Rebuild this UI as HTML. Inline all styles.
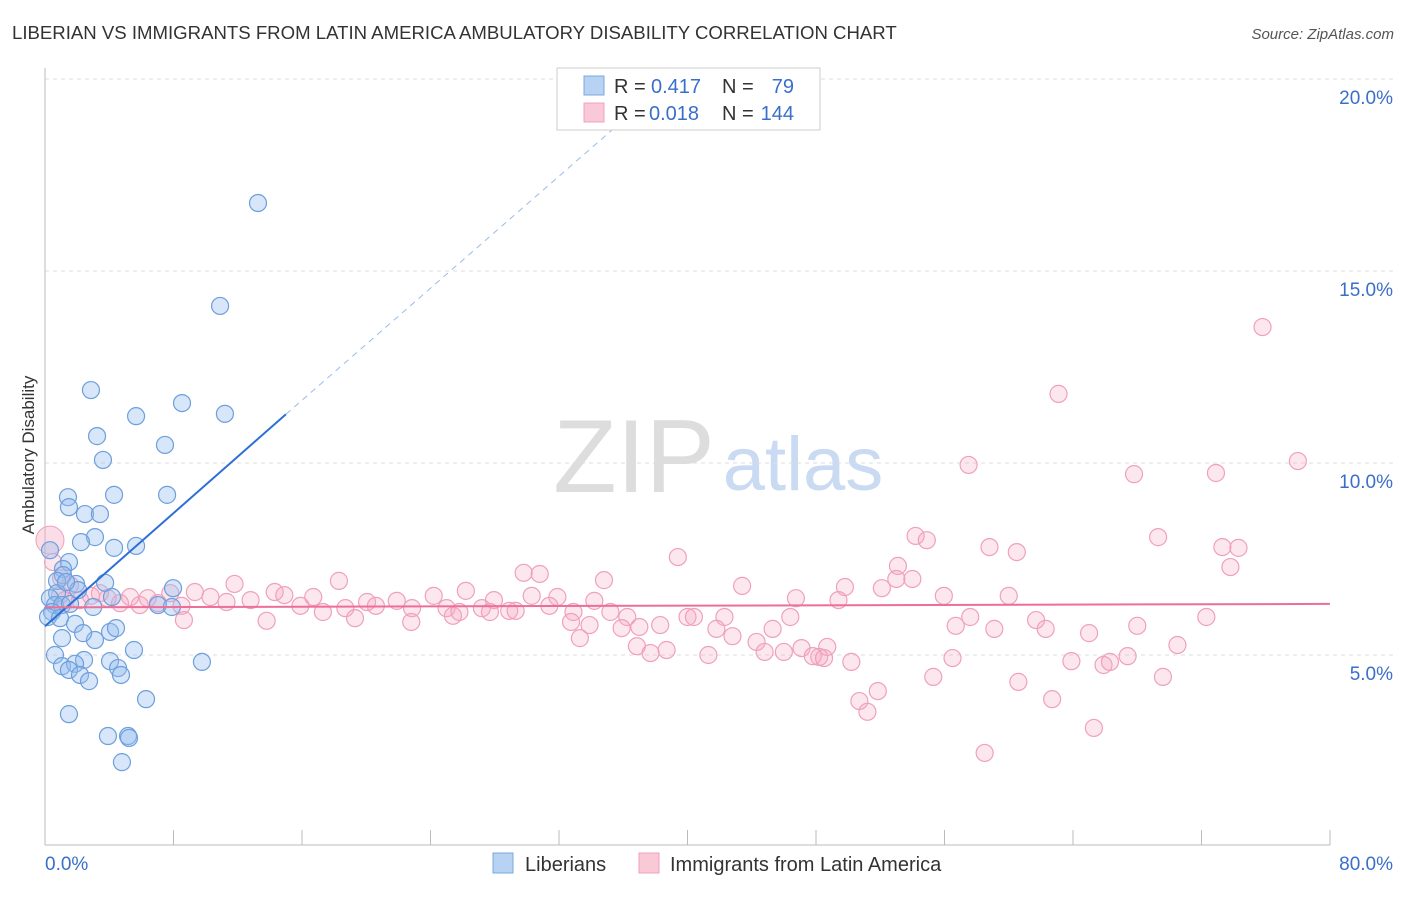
<!DOCTYPE html>
<html><head><meta charset="utf-8">
<style>
body{margin:0;background:#fff;font-family:"Liberation Sans",sans-serif;}
svg text{font-family:"Liberation Sans",sans-serif;}
</style></head>
<body>
<svg width="1406" height="892" viewBox="0 0 1406 892" xmlns="http://www.w3.org/2000/svg">
<text x="12" y="39" font-size="18.6" fill="#333">LIBERIAN VS IMMIGRANTS FROM LATIN AMERICA AMBULATORY DISABILITY CORRELATION CHART</text>
<text x="1394" y="39" font-size="15" fill="#555" font-style="italic" text-anchor="end">Source: ZipAtlas.com</text>
<g>
<text x="634" y="492" font-size="104" font-family="Liberation Serif" fill="#ddd" text-anchor="middle">ZIP</text>
<text x="803" y="490" font-size="76" fill="#c9daf2" text-anchor="middle">atlas</text>
</g>
<g id="grid"></g>
<g id="axes"></g>
<text x="34" y="455" font-size="17" fill="#333" text-anchor="middle" transform="rotate(-90 34 455)">Ambulatory Disability</text>
<g id="pink"></g>
<g id="blue"></g>
<g id="lines"></g>
<g>
<rect x="557" y="68" width="263" height="62" fill="#fff" stroke="#ccc"/>
<rect x="584" y="76" width="20" height="19" fill="#b8d2f4" stroke="#7aa8e0"/>
<rect x="584" y="103" width="20" height="19" fill="#f9c9d7" stroke="#f0a0bc"/>
<text x="614" y="93" font-size="20" fill="#333">R =</text>
<text x="651" y="93" font-size="20" fill="#3a6fc9">0.417</text>
<text x="722" y="93" font-size="20" fill="#333">N =</text>
<text x="794" y="93" font-size="20" fill="#3a6fc9" text-anchor="end">79</text>
<text x="614" y="120" font-size="20" fill="#333">R =</text>
<text x="649" y="120" font-size="20" fill="#3a6fc9">0.018</text>
<text x="722" y="120" font-size="20" fill="#333">N =</text>
<text x="794" y="120" font-size="20" fill="#3a6fc9" text-anchor="end">144</text>
</g>
<g>
<rect x="493" y="853" width="20" height="20" fill="#b8d2f4" stroke="#7aa8e0"/>
<text x="525" y="871" font-size="20" fill="#333">Liberians</text>
<rect x="639" y="853" width="20" height="20" fill="#f9c9d7" stroke="#f0a0bc"/>
<text x="670" y="871" font-size="20" fill="#333">Immigrants from Latin America</text>
</g>
</svg>
<script>
const xTicks=[0,8,16,24,32,40,48,56,64,72,80];
const yTicks=[5,10,15,20];
const yTickLabels=["5.0%","10.0%","15.0%","20.0%"];
const xLabels=["0.0%","80.0%"];
const blueX=[13.26,10.9,2.86,8.53,5.67,11.2,7.47,3.24,3.61,1.43,4.3,7.6,1.49,2.49,3.42,3.11,2.24,4.3,5.67,0.31,1.49,1.12,1.12,0.75,1.93,3.74,7.97,0.75,0.31,0.62,1.06,0.44,0.19,1.56,3.0,7.03,7.9,4.17,0.93,1.87,1.06,3.11,2.37,4.05,4.42,5.54,0.62,2.43,4.05,1.06,1.87,1.49,2.18,2.74,4.55,4.73,9.77,6.29,1.49,3.92,5.17,5.23,4.79,2.06,1.31];
const blueY=[16.77,14.09,11.9,11.56,11.22,11.28,10.47,10.7,10.08,9.11,9.17,9.17,8.85,8.67,8.67,8.07,7.94,7.79,7.84,7.73,7.42,7.24,7.08,6.93,6.85,6.88,6.74,6.61,6.48,6.3,6.3,6.12,5.99,6.33,6.25,6.3,6.25,6.51,5.96,5.81,5.44,5.39,5.57,5.6,5.7,5.13,5.0,4.87,4.84,4.71,4.77,4.61,4.48,4.32,4.66,4.48,4.82,3.85,3.46,2.89,2.89,2.84,2.21,6.69,6.9];
const pinkX=[75.8,63.1,57.5,67.8,72.9,78.0,54.2,54.9,69.3,58.8,60.5,73.3,74.3,73.8,39.4,53.1,29.8,30.8,34.8,18.3,43.4,49.8,52.1,53.0,54.0,11.8,14.3,26.2,9.33,10.3,5.3,6.4,7.8,12.8,14.9,16.7,20.05,21.9,24.2,27.95,30.3,31.9,34.2,46.75,49.4,55.96,60.0,2.86,2.18,4.67,5.9,7.03,8.5,11.3,15.9,18.7,20.6,22.85,25.0,27.2,28.9,31.4,32.9,35.2,36.25,40.0,40.4,42.3,46.4,57.6,61.7,72.3,8.65,13.8,17.3,19.3,22.8,25.4,25.8,27.7,29.3,32.75,33.9,35.9,37.0,38.3,41.8,45.3,56.7,59.1,62.3,68.0,65.0,33.3,42.8,44.3,36.85,37.7,38.7,41.3,44.8,46.0,47.1,48.7,48.2,47.8,48.5,50.2,56.5,63.9,65.9,66.3,67.4,70.5,55.3,60.6,69.6,51.85,50.7,51.2,62.7,65.3,58.5,0.5,1.0,1.56,0.93,3.42,3.9,1.25];
const pinkY=[13.54,11.8,9.95,9.71,9.74,10.05,8.1,7.99,8.07,7.81,7.68,7.81,7.79,7.29,7.55,7.32,7.14,7.11,6.95,6.93,6.8,6.77,6.74,6.98,6.98,6.85,6.64,6.67,6.64,6.51,6.51,6.48,6.61,6.43,6.56,6.51,6.38,6.41,6.54,6.43,6.54,6.51,6.41,6.48,6.43,6.54,6.54,6.54,6.43,6.35,6.3,6.35,6.28,6.38,6.28,6.22,6.28,6.22,6.22,6.22,6.15,6.28,6.12,6.12,5.99,5.99,5.99,5.99,5.99,5.99,5.91,5.99,5.91,5.89,6.12,5.96,5.86,6.02,6.12,6.12,6.15,5.86,5.78,5.7,5.73,5.78,5.68,5.68,5.76,5.68,5.68,5.76,5.57,5.44,5.49,5.34,5.23,5.05,5.13,5.0,5.08,5.08,5.18,5.21,4.95,4.97,4.92,4.82,4.92,4.84,4.74,4.82,4.97,5.26,4.43,4.3,4.43,4.06,3.8,3.52,3.85,3.1,2.45,7.42,7.0,6.82,6.56,6.61,6.48,6.43];
const bigPink={x:0.31,y:7.99};
const blueTrend=[[0,5.75],[15,11.27]];
const blueDash=[[15,11.27],[36.2,19.0]];
const pinkTrend=[[0,6.24],[80,6.33]];

const NS="http://www.w3.org/2000/svg";
const X=v=>45+v/80*1285;
const Y=v=>847-v/20*768;
function mk(tag,attrs,parent){const e=document.createElementNS(NS,tag);for(const k in attrs)e.setAttribute(k,attrs[k]);parent.appendChild(e);return e;}
const grid=document.getElementById('grid'),axes=document.getElementById('axes');
yTicks.forEach((t,i)=>{
 const l=mk('line',{x1:45,x2:1393,y1:Y(t),y2:Y(t),stroke:'#ddd','stroke-dasharray':'4,4'},grid);
 
 
 const tx=mk('text',{x:1393,y:Y(t)+25,'font-size':19,fill:'#3a6fc9','text-anchor':'end'},axes);
 tx.textContent=yTickLabels[i];
 
 
});
mk('line',{x1:45,x2:45,y1:68,y2:845,stroke:'#bbb'},axes);
mk('line',{x1:45,x2:1330,y1:845,y2:845,stroke:'#bbb'},axes);
xTicks.forEach(t=>{
 const l=mk('line',{x1:X(t),x2:X(t),y1:830,y2:845,stroke:'#bbb'},axes);
 
 
});
const xl0=mk('text',{x:45,y:870,'font-size':19,fill:'#3a6fc9'},axes);xl0.textContent=xLabels[0];


const xl1=mk('text',{x:1393,y:870,'font-size':19,fill:'#3a6fc9','text-anchor':'end'},axes);xl1.textContent=xLabels[1];


const pink=document.getElementById('pink'),blue=document.getElementById('blue'),lines=document.getElementById('lines');
const bp=mk('circle',{cx:X(bigPink.x),cy:Y(bigPink.y),r:14,fill:'rgba(246,170,195,0.4)',stroke:'#f0a0bc'},pink);


pinkX.forEach((x,i)=>{
 const c=mk('circle',{cx:X(x),cy:Y(pinkY[i]),r:8.5,fill:'rgba(246,170,195,0.28)',stroke:'#f0a0bc','stroke-width':1.2},pink);
 
 
});
blueX.forEach((x,i)=>{
 const c=mk('circle',{cx:X(x),cy:Y(blueY[i]),r:8.5,fill:'rgba(150,190,240,0.38)',stroke:'#6d9fdc','stroke-width':1.2},blue);
 
 
});
const bl=mk('line',{x1:X(blueTrend[0][0]),y1:Y(blueTrend[0][1]),x2:X(blueTrend[1][0]),y2:Y(blueTrend[1][1]),stroke:'#2d6fd6','stroke-width':2},lines);


const bd=mk('line',{x1:X(blueDash[0][0]),y1:Y(blueDash[0][1]),x2:X(blueDash[1][0]),y2:Y(blueDash[1][1]),stroke:'#9bbbe8','stroke-width':1,'stroke-dasharray':'6,5'},lines);


const pl=mk('line',{x1:X(pinkTrend[0][0]),y1:Y(pinkTrend[0][1]),x2:X(pinkTrend[1][0]),y2:Y(pinkTrend[1][1]),stroke:'#ec6f98','stroke-width':2},lines);


</script>
</body></html>
